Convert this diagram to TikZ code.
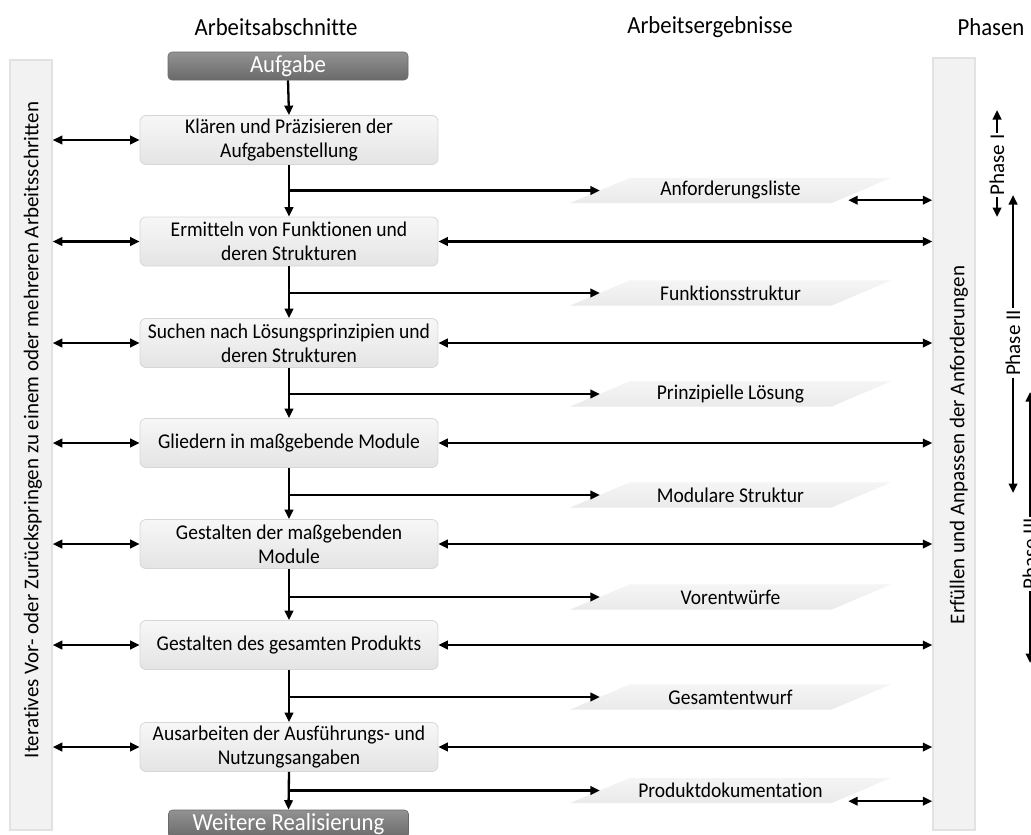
\documentclass[tikz,border=0pt]{standalone}
\usepackage{fontspec}
\setmainfont{Carlito}[Ligatures=NoCommon]
\newfontfamily\slimfont{Carlito}[FakeStretch=0.93,Ligatures=NoCommon]
\usetikzlibrary{arrows.meta}
\pgfdeclarelayer{bg}
\pgfsetlayers{bg,main}
\newcommand\boxfont{\slimfont\fontsize{21}{24}\selectfont}
\newcommand\headfont{\slimfont\fontsize{24.5}{28}\selectfont}
\newcommand\sidefont{\fontsize{21}{24}\selectfont}
% slanted result shape drawn behind a result node
\newcommand\slantshape[1]{%
  \begin{pgfonlayer}{bg}
    \path[resultfill] ([xshift=-30pt]#1.south west) -- ([xshift=30pt]#1.north west)
      -- ([xshift=30pt]#1.north east) -- ([xshift=-30pt]#1.south east) -- cycle;
  \end{pgfonlayer}}
\definecolor{boxtop}{HTML}{F7F7F7}
\definecolor{boxbot}{HTML}{E4E4E4}
\definecolor{boxline}{HTML}{D6D6D6}
\definecolor{endtop}{HTML}{929292}
\definecolor{endbot}{HTML}{6A6A6A}
\definecolor{barfill}{HTML}{F2F2F3}
\definecolor{barline}{HTML}{E2E2E2}
\definecolor{restop}{HTML}{F5F5F5}
\definecolor{resbot}{HTML}{EAEAEA}
\tikzset{
  tip/.tip={Triangle[length=9.5pt,width=8.5pt]},
  arr/.style={line width=2.3pt, -tip},
  dbl/.style={line width=2.3pt, tip-tip},
  stepbox/.style={rectangle, rounded corners=6pt, draw=boxline, line width=0.8pt,
    top color=boxtop, bottom color=boxbot, minimum width=298pt, minimum height=49pt,
    inner sep=0pt, align=center, font=\boxfont},
  endbox/.style={rectangle, rounded corners=4pt, draw=endbot, line width=0.6pt,
    top color=endtop, bottom color=endbot, minimum width=240pt, minimum height=28pt,
    inner sep=0pt, text=white, font=\headfont},
  result/.style={rectangle, minimum width=261pt, minimum height=25pt, inner sep=0pt,
    font=\boxfont},
  resultfill/.style={top color=restop, bottom color=resbot},
  sidebar/.style={rectangle, draw=barline, line width=1.5pt, fill=barfill,
    minimum width=42pt, inner sep=0pt},
  sidetext/.style={rotate=90, font=\sidefont, inner sep=0pt},
  head/.style={font=\headfont, inner sep=0pt},
  phase/.style={rotate=90, font=\sidefont, inner sep=1.5pt},
}
\begin{document}
\begin{tikzpicture}[x=1pt,y=-1pt]
\useasboundingbox (0,0) rectangle (1031,835);
\clip (0,0) rectangle (1031,835);

% column headings
\node[head] (h1) at (276,27) {Arbeitsabschnitte};
\node[head] (h2) at (710,27) {Arbeitsergebnisse};
\node[head] (h3) at (991,27) {Phasen};

% side bars
\node[sidebar, minimum height=770pt] (lbar) at (31,445) {};
\node[sidetext] (ltext) at (33,430) {Iteratives Vor- oder Zurückspringen zu einem oder mehreren Arbeitsschritten};
\node[sidebar, minimum height=772pt] (rbar) at (954,444) {};
\node[sidetext] (rtext) at (959,445) {Erfüllen und Anpassen der Anforderungen};

% start and end
\node[endbox] (start) at (288,66) {Aufgabe};
\node[endbox] (finish) at (288.5,824) {Weitere Realisierung};

% working steps
\node[stepbox] (k1) at (289,140) {Klären und Präzisieren der\\Aufgabenstellung};
\node[stepbox] (k2) at (289,241.5) {Ermitteln von Funktionen und\\deren Strukturen};
\node[stepbox] (k3) at (289,343) {Suchen nach Lösungsprinzipien und\\deren Strukturen};
\node[stepbox] (k4) at (289,443) {Gliedern in maßgebende Module};
\node[stepbox] (k5) at (289,544) {Gestalten der maßgebenden\\Module};
\node[stepbox] (k6) at (289,645) {Gestalten des gesamten Produkts};
\node[stepbox] (k7) at (289,747) {Ausarbeiten der Ausführungs- und\\Nutzungsangaben};

% working results
\node[result] (e1) at (730.5,190.5) {Anforderungsliste};
\node[result] (e2) at (730.5,293) {Funktionsstruktur};
\node[result] (e3) at (730.5,394) {Prinzipielle Lösung};
\node[result] (e4) at (730.5,495) {Modulare Struktur};
\node[result] (e5) at (730.5,597) {Vorentwürfe};
\node[result] (e6) at (730.5,697) {Gesamtentwurf};
\node[result] (e7) at (730.5,790.5) {Produktdokumentation};
\foreach \e in {e1,e2,e3,e4,e5,e6,e7} {\slantshape{\e}}

% main flow
\draw[arr] (start.south) -- (k1.north);
\draw[arr] (k1.south) -- (k2.north);
\draw[arr] (k2.south) -- (k3.north);
\draw[arr] (k3.south) -- (k4.north);
\draw[arr] (k4.south) -- (k5.north);
\draw[arr] (k5.south) -- (k6.north);
\draw[arr] (k6.south) -- (k7.north);
\draw[arr] (k7.south) -- (finish.north);

% branches to the results
\draw[arr] (k1.south |- e1.west) -- (e1.west);
\draw[arr] (k2.south |- e2.west) -- (e2.west);
\draw[arr] (k3.south |- e3.west) -- (e3.west);
\draw[arr] (k4.south |- e4.west) -- (e4.west);
\draw[arr] (k5.south |- e5.west) -- (e5.west);
\draw[arr] (k6.south |- e6.west) -- (e6.west);
\draw[arr] (k7.south |- e7.west) -- (e7.west);

% iteration arrows on the left
\foreach \k in {k1,k2,k3,k4,k5,k6,k7} {\draw[dbl] (lbar.east |- \k.west) -- (\k.west);}

% requirement arrows on the right
\foreach \k in {k2,k3,k4,k5,k6,k7} {\draw[dbl] (\k.east) -- (\k.east -| rbar.west);}
\coordinate (a1) at ([xshift=-13pt,yshift=3pt]e1.south east);
\coordinate (a7) at ([xshift=-13pt,yshift=2pt]e7.south east);
\draw[dbl] (a1) -- (a1 -| rbar.west);
\draw[dbl] (a7) -- (a7 -| rbar.west);

% phases
\node[phase] (p1) at (997,165) {Phase I};
\coordinate (p1t) at (997,110);
\coordinate (p1b) at (997,217);
\draw[arr] (p1.east) -- (p1t);
\draw[arr] (p1.west) -- (p1b);
\node[phase] (p2) at (1013,343) {Phase II};
\coordinate (p2t) at (1013,195);
\coordinate (p2b) at (1013,493);
\draw[arr] (p2.east) -- (p2t);
\draw[arr] (p2.west) -- (p2b);
\node[phase] (p3) at (1030,554) {Phase III};
\coordinate (p3t) at (1030,392);
\coordinate (p3b) at (1030,663);
\draw[arr] (p3.east) -- (p3t);
\draw[arr] (p3.west) -- (p3b);
\end{tikzpicture}
\end{document}
